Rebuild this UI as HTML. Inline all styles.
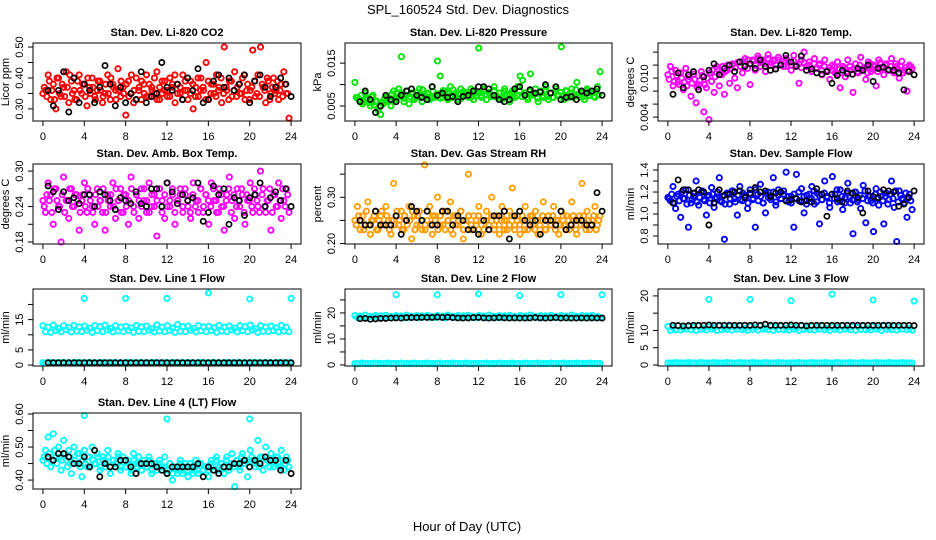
<!DOCTYPE html>
<html><head><meta charset="utf-8">
<style>
html,body{margin:0;padding:0;background:#fff;}
svg{display:block;font-family:"Liberation Sans",Arial,sans-serif;}
</style></head>
<body>
<svg id="chart" width="936" height="540" viewBox="0 0 936 540" xmlns="http://www.w3.org/2000/svg">
<rect x="0" y="0" width="936" height="540" fill="#fff"/>
<text x="468" y="14" text-anchor="middle" font-size="13">SPL_160524  Std. Dev. Diagnostics</text>
<text x="467" y="531" text-anchor="middle" font-size="13">Hour of Day (UTC)</text>
</svg>
<script>
// ---- data (hours spread evenly across the day) ----
const xTicks = [0,4,8,12,16,20,24];
const co2Red = [0.35,0.36,0.41,0.33,0.38,0.30,0.40,0.34,0.37,0.42,0.32,0.39,0.36,0.33,0.41,0.35,0.38,0.31,0.37,0.40,0.34,0.36,0.39,0.32,0.35,0.41,0.33,0.38,0.36,0.43,0.34,0.37,0.28,0.39,0.35,0.32,0.40,0.36,0.33,0.38,0.41,0.34,0.37,0.35,0.42,0.33,0.39,0.36,0.34,0.40,0.37,0.32,0.38,0.35,0.41,0.36,0.33,0.39,0.30,0.37,0.34,0.40,0.36,0.45,0.33,0.38,0.35,0.41,0.37,0.32,0.50,0.36,0.39,0.34,0.42,0.37,0.35,0.40,0.33,0.38,0.36,0.49,0.34,0.41,0.50,0.37,0.32,0.39,0.35,0.40,0.36,0.33,0.38,0.42,0.35,0.27];
const co2Red2 = [0.37,0.34,0.39,0.36,0.33,0.40,0.35,0.38,0.34,0.37,0.41,0.35,0.33,0.39,0.36,0.38,0.34,0.40,0.35,0.37,0.33,0.39,0.36,0.34,0.38,0.35,0.40,0.37,0.33,0.36,0.39,0.35,0.38,0.34,0.41,0.36,0.33,0.37,0.39,0.35,0.34,0.38,0.36,0.40,0.33,0.37,0.35,0.39,0.36,0.34,0.38,0.41,0.35,0.37,0.33,0.39,0.36,0.35,0.38,0.34,0.40,0.36,0.37,0.33,0.39,0.35,0.38,0.34,0.36,0.40,0.35,0.37,0.33,0.39,0.36,0.34,0.38,0.35,0.41,0.36,0.33,0.37,0.39,0.35,0.34,0.38,0.36,0.40,0.33,0.37,0.35,0.39,0.36,0.34,0.38,0.35];
const co2Blk = [0.36,0.31,0.36,0.42,0.29,0.40,0.32,0.38,0.36,0.32,0.37,0.44,0.38,0.31,0.37,0.32,0.35,0.33,0.42,0.32,0.34,0.35,0.45,0.37,0.36,0.38,0.33,0.40,0.36,0.43,0.32,0.33,0.39,0.41,0.37,0.40,0.36,0.38,0.41,0.32,0.39,0.41,0.37,0.34,0.37,0.40,0.38,0.34];
const presGrn = [0.0105,0.007,0.006,0.0055,0.008,0.0065,0.005,0.0075,0.006,0.004,0.003,0.0055,0.006,0.007,0.005,0.0085,0.0065,0.009,0.0165,0.006,0.0075,0.0055,0.008,0.0065,0.007,0.009,0.006,0.0075,0.008,0.0065,0.0095,0.007,0.0155,0.012,0.007,0.0085,0.0065,0.0095,0.007,0.008,0.0065,0.009,0.0075,0.008,0.007,0.009,0.0065,0.008,0.0185,0.0075,0.009,0.0065,0.008,0.0075,0.0095,0.007,0.008,0.0065,0.009,0.0075,0.006,0.0085,0.007,0.0095,0.012,0.011,0.0075,0.0065,0.0125,0.008,0.009,0.006,0.0085,0.007,0.0095,0.0065,0.008,0.007,0.009,0.0075,0.0188,0.0065,0.0085,0.007,0.009,0.0075,0.0105,0.007,0.008,0.0065,0.009,0.0075,0.008,0.007,0.0095,0.013];
const presGrn2 = [0.007,0.0065,0.0075,0.006,0.0068,0.0058,0.0072,0.0052,0.0062,0.0048,0.0058,0.0066,0.0072,0.0062,0.0078,0.0068,0.0082,0.0072,0.0078,0.0068,0.0085,0.0072,0.0078,0.0068,0.0082,0.0074,0.0088,0.0072,0.0078,0.007,0.0084,0.0074,0.0078,0.0068,0.0086,0.0072,0.008,0.0074,0.0088,0.0072,0.0078,0.0068,0.0084,0.0076,0.0082,0.007,0.0086,0.0074,0.008,0.007,0.0088,0.0076,0.0082,0.0072,0.0086,0.0074,0.008,0.007,0.0084,0.0076,0.0078,0.0068,0.0082,0.0074,0.0086,0.0072,0.008,0.007,0.0084,0.0076,0.0078,0.0068,0.0082,0.0074,0.0088,0.0072,0.008,0.007,0.0084,0.0076,0.0082,0.0072,0.0086,0.0074,0.008,0.007,0.0088,0.0076,0.0082,0.0072,0.0086,0.0074,0.008,0.0072,0.0084,0.0076];
const presBlk = [0.006,0.0085,0.0065,0.0035,0.005,0.0075,0.0065,0.006,0.0075,0.0085,0.009,0.0075,0.007,0.0065,0.0095,0.0075,0.008,0.007,0.0072,0.006,0.0072,0.0075,0.0085,0.0095,0.0095,0.009,0.0075,0.0065,0.006,0.0065,0.009,0.0095,0.0075,0.0088,0.008,0.0083,0.01,0.008,0.0095,0.0065,0.007,0.0072,0.0065,0.0085,0.008,0.0085,0.009,0.0075];
const tempMag = [0.0105,0.0118,0.0088,0.0112,0.0094,0.0108,0.0082,0.0115,0.0098,0.0072,0.0106,0.0062,0.0090,0.0110,0.0048,0.0085,0.0036,0.0095,0.0078,0.0118,0.0088,0.0105,0.0075,0.0112,0.0092,0.0120,0.0100,0.0085,0.0125,0.0108,0.0130,0.0115,0.0090,0.0128,0.0112,0.0134,0.0118,0.0125,0.0110,0.0136,0.0120,0.0128,0.0114,0.0132,0.0122,0.0118,0.0130,0.0125,0.0112,0.0135,0.0120,0.0092,0.0128,0.0140,0.0118,0.0125,0.0110,0.0130,0.0115,0.0122,0.0105,0.0128,0.0112,0.0098,0.0120,0.0108,0.0125,0.0085,0.0118,0.0102,0.0128,0.0112,0.0078,0.0122,0.0108,0.0132,0.0115,0.0098,0.0125,0.0110,0.0120,0.0088,0.0128,0.0115,0.0105,0.0122,0.0112,0.0130,0.0108,0.0118,0.0100,0.0126,0.0112,0.0080,0.0120,0.0115];
const tempMag2 = [0.0098,0.0110,0.0095,0.0104,0.0090,0.0100,0.0094,0.0088,0.0102,0.0092,0.0098,0.0086,0.0096,0.0104,0.0090,0.0100,0.0108,0.0112,0.0102,0.0114,0.0106,0.0118,0.0110,0.0120,0.0114,0.0122,0.0116,0.0124,0.0118,0.0126,0.0120,0.0128,0.0122,0.0126,0.0120,0.0130,0.0124,0.0128,0.0122,0.0130,0.0124,0.0126,0.0120,0.0128,0.0122,0.0126,0.0118,0.0124,0.0120,0.0126,0.0118,0.0122,0.0116,0.0124,0.0118,0.0120,0.0114,0.0122,0.0116,0.0120,0.0112,0.0118,0.0110,0.0116,0.0112,0.0118,0.0106,0.0114,0.0108,0.0116,0.0110,0.0118,0.0106,0.0114,0.0110,0.0120,0.0112,0.0116,0.0108,0.0122,0.0114,0.0118,0.0110,0.0124,0.0116,0.0120,0.0112,0.0118,0.0110,0.0122,0.0114,0.0118,0.0108,0.0116,0.0112,0.0118];
const tempBlk = [0.0075,0.0108,0.0085,0.0105,0.0110,0.0082,0.0102,0.0112,0.0122,0.0105,0.0115,0.0120,0.0110,0.0125,0.0118,0.0122,0.0115,0.0128,0.0118,0.0112,0.0114,0.0120,0.0135,0.0125,0.0118,0.0134,0.0112,0.0114,0.0108,0.0106,0.0110,0.0092,0.0104,0.0112,0.0107,0.0106,0.0115,0.0112,0.0120,0.0095,0.0115,0.0117,0.0113,0.0112,0.0108,0.0082,0.0110,0.0105];
const ambMag = [0.25,0.23,0.28,0.26,0.21,0.27,0.24,0.18,0.29,0.25,0.22,0.27,0.24,0.26,0.20,0.25,0.28,0.23,0.26,0.24,0.21,0.27,0.25,0.23,0.20,0.26,0.24,0.28,0.22,0.25,0.27,0.23,0.26,0.21,0.29,0.24,0.26,0.22,0.27,0.25,0.23,0.28,0.24,0.26,0.19,0.27,0.25,0.22,0.28,0.24,0.26,0.21,0.25,0.27,0.23,0.26,0.24,0.22,0.28,0.25,0.23,0.27,0.24,0.26,0.21,0.28,0.25,0.23,0.27,0.24,0.20,0.26,0.29,0.25,0.22,0.27,0.24,0.26,0.21,0.25,0.28,0.23,0.26,0.24,0.30,0.27,0.23,0.25,0.20,0.26,0.24,0.28,0.22,0.25,0.27,0.23];
const ambMag2 = [0.24,0.26,0.25,0.23,0.27,0.25,0.24,0.26,0.23,0.25,0.27,0.24,0.26,0.25,0.23,0.26,0.24,0.27,0.25,0.23,0.26,0.24,0.25,0.27,0.23,0.25,0.26,0.24,0.27,0.25,0.23,0.26,0.24,0.25,0.27,0.23,0.26,0.25,0.24,0.27,0.25,0.23,0.26,0.24,0.25,0.27,0.23,0.26,0.24,0.25,0.27,0.23,0.25,0.26,0.24,0.27,0.25,0.23,0.26,0.24,0.25,0.27,0.23,0.26,0.25,0.24,0.27,0.25,0.23,0.26,0.24,0.25,0.27,0.23,0.26,0.24,0.25,0.27,0.23,0.26,0.25,0.24,0.27,0.25,0.23,0.26,0.24,0.25,0.27,0.23,0.26,0.24,0.25,0.27,0.24,0.26];
const ambBlk = [0.275,0.265,0.235,0.265,0.25,0.255,0.245,0.26,0.26,0.24,0.265,0.26,0.25,0.235,0.255,0.25,0.245,0.265,0.245,0.24,0.27,0.27,0.24,0.28,0.265,0.245,0.26,0.25,0.255,0.28,0.215,0.23,0.275,0.26,0.27,0.21,0.255,0.25,0.225,0.255,0.26,0.28,0.24,0.255,0.265,0.25,0.27,0.24];
const rhOrg = [0.25,0.28,0.23,0.26,0.24,0.29,0.22,0.25,0.27,0.23,0.26,0.24,0.28,0.25,0.22,0.33,0.26,0.24,0.27,0.23,0.25,0.28,0.21,0.26,0.24,0.27,0.23,0.37,0.25,0.28,0.22,0.26,0.30,0.24,0.27,0.23,0.25,0.29,0.22,0.26,0.24,0.27,0.21,0.25,0.35,0.23,0.26,0.24,0.28,0.22,0.25,0.27,0.23,0.30,0.24,0.26,0.22,0.28,0.25,0.23,0.27,0.32,0.24,0.26,0.22,0.25,0.28,0.23,0.26,0.24,0.27,0.22,0.25,0.29,0.23,0.26,0.24,0.28,0.25,0.22,0.27,0.24,0.26,0.23,0.29,0.25,0.22,0.26,0.33,0.24,0.27,0.23,0.25,0.28,0.24,0.26];
const rhOrg2 = [0.24,0.26,0.25,0.23,0.27,0.24,0.25,0.26,0.23,0.25,0.27,0.24,0.26,0.23,0.25,0.24,0.27,0.25,0.23,0.26,0.24,0.25,0.27,0.23,0.26,0.24,0.25,0.23,0.27,0.24,0.26,0.25,0.23,0.26,0.24,0.27,0.25,0.23,0.26,0.24,0.25,0.27,0.23,0.25,0.26,0.24,0.23,0.25,0.26,0.24,0.23,0.25,0.24,0.26,0.23,0.25,0.24,0.26,0.23,0.25,0.24,0.26,0.23,0.25,0.24,0.26,0.23,0.25,0.24,0.26,0.23,0.25,0.24,0.26,0.23,0.25,0.24,0.26,0.23,0.25,0.24,0.26,0.23,0.25,0.24,0.26,0.23,0.25,0.24,0.26,0.23,0.25,0.24,0.26,0.23,0.25];
const rhBlk = [0.25,0.24,0.24,0.27,0.24,0.24,0.24,0.26,0.22,0.25,0.28,0.27,0.25,0.27,0.24,0.24,0.27,0.27,0.24,0.26,0.25,0.23,0.23,0.22,0.25,0.23,0.26,0.26,0.27,0.21,0.26,0.27,0.25,0.24,0.25,0.22,0.25,0.25,0.24,0.27,0.23,0.24,0.25,0.25,0.24,0.24,0.31,0.27];
const flowBlu = [1.15,1.12,1.25,1.05,1.18,0.97,1.14,1.22,0.88,1.10,1.16,1.30,1.08,1.20,1.13,0.99,1.17,1.24,1.06,1.15,1.33,1.11,0.77,1.19,1.09,1.21,1.14,0.99,1.25,1.12,1.17,1.05,1.22,1.13,0.88,1.18,1.27,1.10,1.01,1.20,1.15,1.33,1.08,1.22,1.14,1.18,1.38,1.11,1.16,0.88,1.36,1.12,1.23,1.01,1.17,1.14,1.25,1.09,1.19,0.91,1.13,1.30,1.16,1.06,1.34,1.18,1.11,1.22,1.04,1.15,1.28,1.10,0.82,1.20,1.13,1.05,1.26,0.92,1.17,1.12,0.84,1.23,1.08,1.16,0.91,1.19,1.13,1.30,1.06,0.75,1.21,1.14,1.10,0.97,1.18,1.04];
const flowBlu2 = [1.14,1.18,1.10,1.16,1.12,1.20,1.14,1.09,1.17,1.13,1.19,1.11,1.15,1.21,1.12,1.16,1.10,1.18,1.14,1.20,1.12,1.16,1.09,1.18,1.14,1.21,1.11,1.17,1.13,1.19,1.15,1.10,1.18,1.14,1.22,1.12,1.16,1.10,1.19,1.15,1.13,1.20,1.11,1.17,1.14,1.21,1.12,1.16,1.10,1.18,1.14,1.20,1.12,1.16,1.09,1.18,1.14,1.21,1.11,1.17,1.13,1.19,1.15,1.10,1.18,1.14,1.22,1.12,1.16,1.10,1.19,1.15,1.13,1.20,1.11,1.17,1.14,1.21,1.12,1.16,1.10,1.18,1.14,1.20,1.12,1.16,1.09,1.18,1.14,1.21,1.11,1.17,1.13,1.19,1.15,1.12];
const flowBlk = [1.10,1.31,1.22,1.22,1.19,1.22,1.20,0.90,1.10,1.22,1.17,1.18,1.20,1.21,1.15,1.19,1.24,1.20,1.21,1.16,1.19,1.20,1.12,1.13,1.14,1.11,1.12,1.11,1.23,1.18,0.98,1.18,1.14,1.11,1.21,1.19,1.15,1.01,1.21,1.16,1.15,1.22,1.21,1.20,1.07,1.09,1.15,1.21];
const l1Main = [13,11,12.5,10.8,13.2,11.4,12,11,13,11.6,12.4,10.9,13.1,11.2,12.6,11,12.9,11.5,12.2,10.8,13,11.3,12.7,11,13.2,11.6,12.1,10.9,13,11.2,12.5,11,12.8,11.4,12.3,10.8,13.1,11.1,12.6,11,12.9,11.5,12,10.9,13.3,11.2,12.5,11,13,11.4,12.2,10.8,13.4,11.1,12.7,11,12.9,11.5,12.1,10.9,13,11.3,12.6,11,12.8,11.4,12.3,10.8,13.1,11.2,12.5,11,12.9,11.6,12.2,10.9,13,11.3,12.7,11,13.2,11.5,12,10.8,13,11.1,12.6,11,12.9,11.4,12.3,10.9,13.1,11.2,12.5,11];
const l1Low = [0.8,0.7,0.8,0.9,0.7,0.8,0.7,0.8,0.9,0.7,0.8,0.7,0.8,0.9,0.7,0.8,0.7,0.8,0.9,0.7,0.8,0.7,0.8,0.9,0.7,0.8,0.7,0.8,0.9,0.7,0.8,0.7,0.8,0.9,0.7,0.8,0.7,0.8,0.9,0.7,0.8,0.7,0.8,0.9,0.7,0.8,0.7,0.8,0.8,0.7,0.8,0.9,0.7,0.8,0.7,0.8,0.9,0.7,0.8,0.7,0.8,0.9,0.7,0.8,0.7,0.8,0.9,0.7,0.8,0.7,0.8,0.9,0.7,0.8,0.7,0.8,0.9,0.7,0.8,0.7,0.8,0.9,0.7,0.8,0.7,0.8,0.9,0.7,0.8,0.7,0.8,0.9,0.7,0.8,0.7,0.8];
const l1OutHr = [4,8,12,16,20,24];
const l1Out = [22,22,22,23.8,21.8,22];
const l1Blk = [0.8,0.8,0.8,0.8,0.8,0.8,0.8,0.8,0.8,0.8,0.8,0.8,0.8,0.8,0.8,0.8,0.8,0.8,0.8,0.8,0.8,0.8,0.8,0.8,0.8,0.8,0.8,0.8,0.8,0.8,0.8,0.8,0.8,0.8,0.8,0.8,0.8,0.8,0.8,0.8,0.8,0.8,0.8,0.8,0.8,0.8,0.8,0.8];
const l2Main = [19,18.2,18.8,18.4,19.2,18.1,18.7,18.5,19,18.3,18.9,18.2,19.1,18.4,18.6,18.2,19,18.5,18.8,18.1,19.2,18.3,18.7,18.4,19,18.2,18.9,18.5,19.1,18.3,18.6,18.2,19,18.4,18.8,18.1,19.2,18.5,18.7,18.3,19,18.2,18.9,18.4,19.1,18.3,18.6,18.2,19,18.5,18.8,18.1,19.2,18.4,18.7,18.3,19,18.2,18.9,18.5,19.1,18.3,18.6,18.2,19,18.4,18.8,18.1,19.2,18.5,18.7,18.3,19,18.2,18.9,18.4,19.1,18.3,18.6,18.2,19,18.5,18.8,18.1,19.2,18.4,18.7,18.3,19,18.2,18.9,18.5,19.1,18.3,18.6,18.2];
const l2Low = [0.6,0.5,0.6,0.7,0.5,0.6,0.5,0.6,0.7,0.5,0.6,0.5,0.6,0.7,0.5,0.6,0.5,0.6,0.7,0.5,0.6,0.5,0.6,0.7,0.5,0.6,0.5,0.6,0.7,0.5,0.6,0.5,0.6,0.7,0.5,0.6,0.5,0.6,0.7,0.5,0.6,0.5,0.6,0.7,0.5,0.6,0.5,0.6,0.6,0.5,0.6,0.7,0.5,0.6,0.5,0.6,0.7,0.5,0.6,0.5,0.6,0.7,0.5,0.6,0.5,0.6,0.7,0.5,0.6,0.5,0.6,0.7,0.5,0.6,0.5,0.6,0.7,0.5,0.6,0.5,0.6,0.7,0.5,0.6,0.5,0.6,0.7,0.5,0.6,0.5,0.6,0.7,0.5,0.6,0.5,0.6];
const l2OutHr = [4,8,12,16,20,24];
const l2Out = [27,27,27.3,26.7,27,27];
const l2Blk = [17.8,17.9,17.6,17.7,17.9,17.9,18,18.1,18,18.2,18.2,18.2,18.3,18.3,18.3,18.4,18.3,18.4,18.2,18.1,18,18.1,18.2,18.3,18.1,18,18.1,18.2,18.1,18,18.1,18,18,18.1,18.2,18.1,18,18.1,18.2,18,18.1,18,18,18.1,18,18.1,18,18];
const l3Main = [11.2,10,10.8,10.2,11.4,10.1,10.7,10.4,11.2,10.2,10.9,10,11.3,10.3,10.6,10.1,11.1,10.4,10.8,10,11.4,10.2,10.7,10.3,11.2,10.1,10.9,10.4,11.3,10.2,10.6,10,11.1,10.3,10.8,10.1,11.4,10.4,10.7,10.2,11.2,10,10.9,10.3,11.3,10.2,10.6,10.1,11.1,10.4,10.8,10,11.4,10.3,10.7,10.2,11.2,10.1,10.9,10.4,11.3,10.2,10.6,10,11.1,10.3,10.8,10.1,11.4,10.4,10.7,10.2,11.2,10,10.9,10.3,11.3,10.2,10.6,10.1,11.1,10.4,10.8,10,11.4,10.3,10.7,10.2,11.2,10.1,10.9,10.4,11.3,10.2,10.6,10.1];
const l3Low = [0.6,0.5,0.6,0.7,0.5,0.6,0.5,0.6,0.7,0.5,0.6,0.5,0.6,0.7,0.5,0.6,0.5,0.6,0.7,0.5,0.6,0.5,0.6,0.7,0.5,0.6,0.5,0.6,0.7,0.5,0.6,0.5,0.6,0.7,0.5,0.6,0.5,0.6,0.7,0.5,0.6,0.5,0.6,0.7,0.5,0.6,0.5,0.6,0.6,0.5,0.6,0.7,0.5,0.6,0.5,0.6,0.7,0.5,0.6,0.5,0.6,0.7,0.5,0.6,0.5,0.6,0.7,0.5,0.6,0.5,0.6,0.7,0.5,0.6,0.5,0.6,0.7,0.5,0.6,0.5,0.6,0.7,0.5,0.6,0.5,0.6,0.7,0.5,0.6,0.5,0.6,0.7,0.5,0.6,0.5,0.6];
const l3OutHr = [4,8,12,16,20,24];
const l3Out = [19,19,18.6,20.5,18.8,18.5];
const l3Blk = [11.5,11.4,11.3,11.4,11.5,11.5,11.5,11.6,11.5,11.5,11.5,11.5,11.5,11.5,11.5,11.5,11.6,11.5,11.8,11.5,11.5,11.5,11.5,11.6,11.5,11.5,11.3,11.5,11.5,11.5,11.5,11.5,11.5,11.5,11.5,11.5,11.5,11.5,11.5,11.5,11.5,11.5,11.5,11.5,11.5,11.5,11.5,11.4];
const l4Cyan = [0.46,0.49,0.53,0.44,0.54,0.47,0.50,0.43,0.52,0.46,0.49,0.42,0.50,0.45,0.48,0.41,0.49,0.44,0.47,0.50,0.45,0.48,0.43,0.47,0.44,0.49,0.42,0.46,0.45,0.48,0.43,0.47,0.44,0.46,0.42,0.48,0.45,0.47,0.43,0.46,0.44,0.47,0.42,0.45,0.43,0.46,0.44,0.47,0.42,0.45,0.40,0.44,0.42,0.46,0.43,0.45,0.41,0.44,0.43,0.46,0.42,0.45,0.43,0.44,0.41,0.46,0.43,0.47,0.44,0.45,0.42,0.47,0.44,0.48,0.38,0.46,0.43,0.48,0.45,0.41,0.49,0.46,0.44,0.52,0.47,0.43,0.50,0.46,0.48,0.44,0.47,0.45,0.49,0.43,0.47,0.44];
const l4Cyan2 = [0.47,0.45,0.48,0.46,0.49,0.45,0.47,0.46,0.48,0.44,0.47,0.45,0.46,0.48,0.44,0.46,0.45,0.47,0.44,0.46,0.45,0.47,0.44,0.46,0.45,0.47,0.44,0.46,0.45,0.47,0.44,0.46,0.44,0.45,0.43,0.46,0.44,0.45,0.43,0.45,0.44,0.46,0.43,0.45,0.44,0.45,0.43,0.44,0.43,0.45,0.42,0.44,0.43,0.45,0.42,0.44,0.43,0.45,0.42,0.44,0.43,0.45,0.43,0.44,0.43,0.45,0.44,0.46,0.43,0.45,0.44,0.46,0.43,0.45,0.44,0.46,0.44,0.47,0.45,0.46,0.44,0.47,0.45,0.46,0.44,0.47,0.45,0.46,0.44,0.46,0.45,0.47,0.44,0.46,0.45,0.46];
const l4OutHr = [4,12,20];
const l4Out = [0.595,0.585,0.585];
const l4Blk = [0.47,0.46,0.48,0.48,0.47,0.45,0.45,0.47,0.44,0.49,0.41,0.45,0.44,0.44,0.46,0.46,0.44,0.42,0.45,0.45,0.45,0.44,0.43,0.42,0.44,0.44,0.44,0.44,0.44,0.45,0.41,0.44,0.43,0.42,0.44,0.44,0.45,0.45,0.46,0.44,0.46,0.45,0.47,0.46,0.46,0.43,0.46,0.42];

// ---- layout ----
const colX = [[33,301],[345,612],[658,924]];
const rowY = [[43,121],[164,244],[289,366],[413,489]];
const NS = "http://www.w3.org/2000/svg";
const svg = document.getElementById('chart');

const panels = [
 {t:'Stan. Dev. Li-820 CO2', yl:'Licor ppm', c:0, r:0, y0:0.261, y1:0.513, ticks:[0.30,0.35,0.40,0.45,0.50], labs:['0.30','','0.40','','0.50'],
  series:[{col:'#ff0000', v:co2Red},{col:'#ff0000', v:co2Red2, off:true},{col:'#000', v:co2Blk}]},
 {t:'Stan. Dev. Li-820 Pressure', yl:'kPa', c:1, r:0, y0:0.0015, y1:0.0197, ticks:[0.005,0.010,0.015], labs:['0.005','','0.015'],
  series:[{col:'#00e600', v:presGrn},{col:'#00e600', v:presGrn2, off:true},{col:'#000', v:presBlk}]},
 {t:'Stan. Dev. Li-820 Temp.', yl:'degrees C', c:2, r:0, y0:0.0034, y1:0.0154, ticks:[0.004,0.006,0.008,0.010,0.012,0.014], labs:['0.004','','','0.010','',''],
  series:[{col:'#ff00ff', v:tempMag},{col:'#ff00ff', v:tempMag2, off:true},{col:'#000', v:tempBlk}]},
 {t:'Stan. Dev. Amb. Box Temp.', yl:'degrees C', c:0, r:1, y0:0.1766, y1:0.312, ticks:[0.18,0.21,0.24,0.27,0.30], labs:['0.18','','0.24','','0.30'],
  series:[{col:'#ff00ff', v:ambMag},{col:'#ff00ff', v:ambMag2, off:true},{col:'#000', v:ambBlk}]},
 {t:'Stan. Dev. Gas Stream RH', yl:'percent', c:1, r:1, y0:0.199, y1:0.372, ticks:[0.20,0.25,0.30,0.35], labs:['0.20','','0.30',''],
  series:[{col:'#ffa000', v:rhOrg},{col:'#ff9800', v:rhOrg2, off:true},{col:'#000', v:rhBlk}]},
 {t:'Stan. Dev. Sample Flow', yl:'ml/min', c:2, r:1, y0:0.727, y1:1.455, ticks:[0.8,0.9,1.0,1.1,1.2,1.3,1.4], labs:['0.8','','1.0','','1.2','','1.4'],
  series:[{col:'#0000ff', v:flowBlu},{col:'#0000ff', v:flowBlu2, off:true},{col:'#000', v:flowBlk}]},
 {t:'Stan. Dev. Line 1 Flow', yl:'ml/min', c:0, r:2, y0:-0.3, y1:25.1, ticks:[0,5,10,15,20], labs:['0','5','','15',''],
  series:[{col:'#00ffff', v:l1Main},{col:'#00ffff', v:l1Low},{col:'#00ffff', v:l1Out, h:l1OutHr},{col:'#000', v:l1Blk}]},
 {t:'Stan. Dev. Line 2 Flow', yl:'ml/min', c:1, r:2, y0:-0.4, y1:29.2, ticks:[0,5,10,15,20,25], labs:['0','','10','','20',''],
  series:[{col:'#00ffff', v:l2Main},{col:'#00ffff', v:l2Low},{col:'#00ffff', v:l2Out, h:l2OutHr},{col:'#000', v:l2Blk}]},
 {t:'Stan. Dev. Line 3 Flow', yl:'ml/min', c:2, r:2, y0:-0.3, y1:22, ticks:[0,5,10,15,20], labs:['0','5','10','','20'],
  series:[{col:'#00ffff', v:l3Main},{col:'#00ffff', v:l3Low},{col:'#00ffff', v:l3Out, h:l3OutHr},{col:'#000', v:l3Blk}]},
 {t:'Stan. Dev. Line 4 (LT) Flow', yl:'ml/min', c:0, r:3, y0:0.373, y1:0.603, ticks:[0.40,0.45,0.50,0.55,0.60], labs:['0.40','','0.50','','0.60'],
  series:[{col:'#00ffff', v:l4Cyan},{col:'#00ffff', v:l4Cyan2, off:true},{col:'#00ffff', v:l4Out, h:l4OutHr},{col:'#000', v:l4Blk}]}
];

function mk(tag, attrs, parent){
  const e = document.createElementNS(NS, tag);
  for (const k in attrs) e.setAttribute(k, attrs[k]);
  (parent||svg).appendChild(e);
  return e;
}

panels.forEach((p, pi) => {
  const [L,R] = colX[p.c], [T,B] = rowY[p.r];
  const g = mk('g', {});
  
  
  const xs = h => L + (R-L) * (h + 0.96) / 25.92;
  const ys = v => B - (B-T) * (v - p.y0) / (p.y1 - p.y0);
  p.series.forEach((s) => {
    const n = s.v.length;
    const blk = s.col === '#000';
    s.v.forEach((v, i) => {
      let hr;
      if (s.h) hr = s.h[i];
      else if (blk) hr = (i+1) * 24 / n;
      else if (s.off) hr = (i + 0.5) * 23.8 / n;
      else hr = i * 23.8 / (n-1);
      const c = mk('circle', {cx: xs(hr).toFixed(1), cy: ys(v).toFixed(1), r: 2.6, fill: 'none', stroke: s.col, 'stroke-width': blk ? 1.7 : 1.9}, g);
      
      
    });
  });
  const box = mk('rect', {x: L, y: T, width: R-L, height: B-T, fill: 'none', stroke: '#000', 'stroke-width': 1}, g);
  
  
  const tt = mk('text', {x: (L+R)/2, y: T-7, 'text-anchor': 'middle', 'font-size': 11, 'font-weight': 'bold'}, g);
  tt.textContent = p.t;
  
  
  const x0 = xs(xTicks[0]), x1 = xs(xTicks[xTicks.length-1]);
  mk('line', {x1: x0, x2: x1, y1: B, y2: B, stroke: '#000'}, g);
  xTicks.forEach(t => {
    const x = xs(t);
    mk('line', {x1: x, x2: x, y1: B, y2: B+5, stroke: '#000'}, g);
    const lt = mk('text', {x: x, y: B+19, 'text-anchor': 'middle', 'font-size': 11}, g);
    lt.textContent = t;
    
    
  });
  const yt0 = ys(p.ticks[0]), yt1 = ys(p.ticks[p.ticks.length-1]);
  mk('line', {x1: L, x2: L, y1: yt0, y2: yt1, stroke: '#000'}, g);
  p.ticks.forEach((t, i) => {
    const y = ys(t);
    mk('line', {x1: L-5, x2: L, y1: y, y2: y, stroke: '#000'}, g);
    if (p.labs[i]) {
      const lt = mk('text', {x: L-10, y: y, 'text-anchor': 'middle', 'font-size': 11, transform: `rotate(-90 ${L-10} ${y})`}, g);
      lt.textContent = p.labs[i];
      
      
    }
  });
  const yc = (T+B)/2;
  const yl = mk('text', {x: L-24, y: yc, 'text-anchor': 'middle', 'font-size': 11, transform: `rotate(-90 ${L-24} ${yc})`}, g);
  yl.textContent = p.yl;
  
  
});
</script>
</body></html>
